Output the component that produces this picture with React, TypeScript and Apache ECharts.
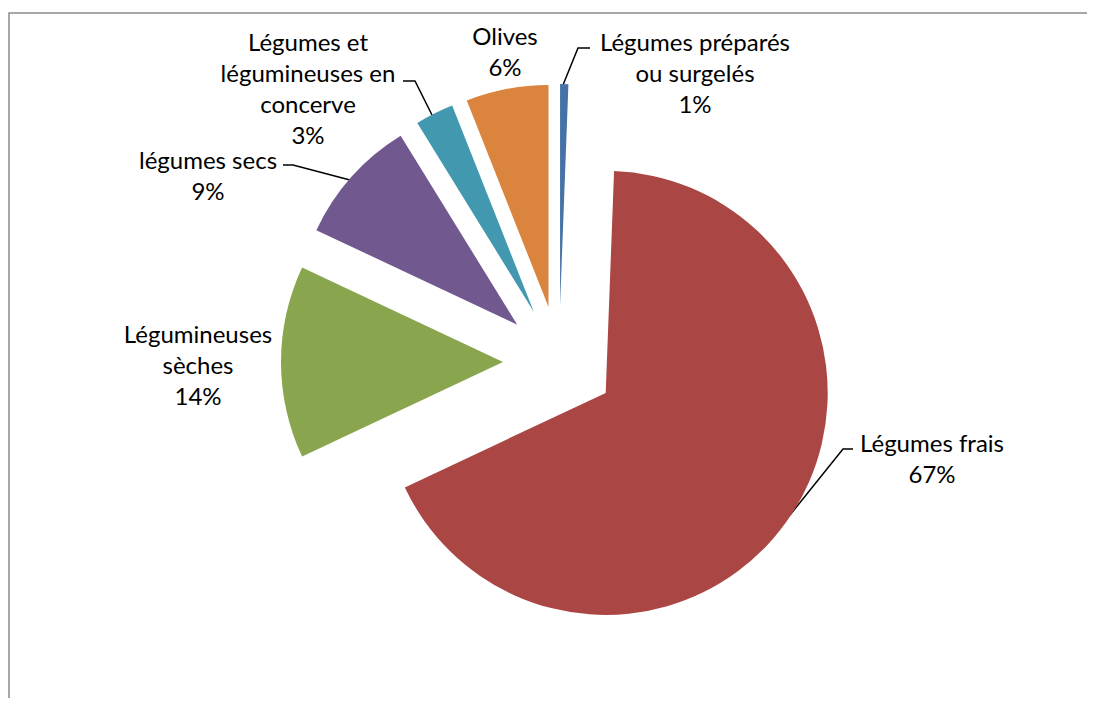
import React, { useEffect, useRef } from "react";
import * as echarts from "echarts";

const categories = [
  "Légumes préparés\nou surgelés",
  "Légumes frais",
  "Légumineuses\nsèches",
  "légumes secs",
  "Légumes et\nlégumineuses en\nconcerve",
  "Olives",
];
const values = [0.6, 67.4, 14.0, 9.2, 2.8, 6.0];
const percentLabels = ["1%", "67%", "14%", "9%", "3%", "6%"];
const colors = ["#4572A7", "#AA4643", "#89A54E", "#71588F", "#4198AF", "#DB843D"];

// label anchor positions (chart pixels, centre of text block) and leader lines
const labelPos: [number, number][] = [
  [687, 64],
  [924, 450],
  [190, 356],
  [200, 167],
  [300, 80],
  [497, 43],
];
const leaderLines: ([number, number][] | null)[] = [
  [[555, 77], [570, 40], [582, 40]],
  [[782, 507], [835, 441], [845, 441]],
  null,
  [[342, 172], [285, 157], [275, 157]],
  [[425, 109], [407, 73], [395, 73]],
  null,
];

export default function App() {
  const ref = useRef<HTMLDivElement>(null);
  useEffect(() => {
    if (!ref.current) return;
    const chart = echarts.init(ref.current, null, { renderer: "svg" });
    const total = values.reduce((a, b) => a + b, 0);
    const labelGraphics: any[] = [];
    categories.forEach((c, i) => {
      const pct = percentLabels[i] ?? `${Math.round((values[i] / total) * 100)}%`;
      labelGraphics.push({
        type: "text",
        x: labelPos[i][0],
        y: labelPos[i][1],
        silent: true,
        style: {
          text: `${c}\n${pct}`,
          fill: "#000",
          fontFamily: "Lato",
          fontSize: 24,
          lineHeight: 31,
          align: "center",
          verticalAlign: "middle",
        },
      });
      const pts = leaderLines[i];
      if (pts) {
        labelGraphics.push({
          type: "polyline",
          silent: true,
          shape: { points: pts },
          style: { stroke: "#000", lineWidth: 1.5, fill: "none" },
        });
      }
    });
    chart.setOption({
      animation: false,
      graphic: [
        {
          type: "rect",
          shape: { x: 1, y: 5, width: 3000, height: 3000 },
          style: { fill: "none", stroke: "#8a8a8a", lineWidth: 1.5 },
          silent: true,
        },
        ...labelGraphics,
      ],
      series: [
        {
          type: "pie",
          center: [551, 354],
          radius: [0, 222],
          startAngle: 90,
          clockwise: true,
          selectedMode: "multiple",
          selectedOffset: 56,
          avoidLabelOverlap: false,
          emphasis: { disabled: true },
          select: { itemStyle: { borderWidth: 0 } },
          label: { show: false },
          labelLine: { show: false },
          data: categories.map((c, i) => ({
            name: c,
            value: values[i],
            selected: true,
            itemStyle: { color: colors[i] },
          })),
        },
      ],
    });
    return () => chart.dispose();
  }, []);
  return <div ref={ref} style={{ width: 1079, height: 698, marginBottom: -8 }} />;
}
